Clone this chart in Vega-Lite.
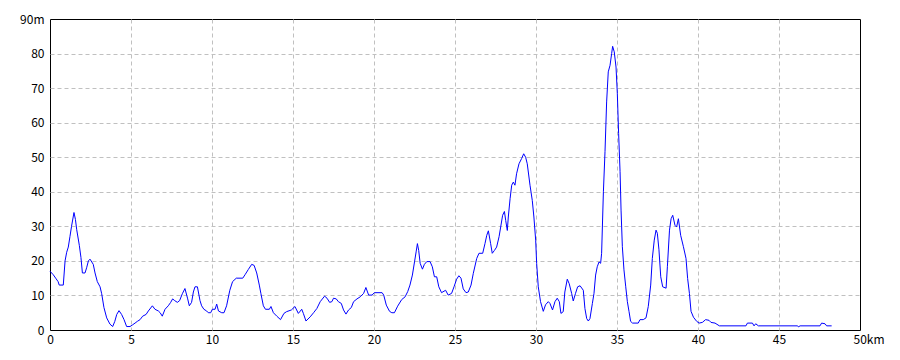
{
  "$schema": "https://vega.github.io/schema/vega-lite/v6.json",
  "width": 810,
  "height": 311,
  "autosize": {"type": "none"},
  "padding": {"left": 50, "top": 19, "right": 40, "bottom": 30},
  "background": "white",
  "config": {
    "view": {"stroke": "black", "strokeWidth": 1},
    "axis": {
      "labelFont": "Noto Sans CJK JP",
      "labelFontSize": 12,
      "labelColor": "black",
      "domain": false,
      "ticks": false,
      "gridColor": "#c0c0c0",
      "gridDash": [4, 3],
      "gridWidth": 1,
      "title": null
    }
  },
  "data": {
    "values": [
      {"km": 0, "m": 17}, {"km": 0.2, "m": 16}, {"km": 0.35, "m": 15}, {"km": 0.5, "m": 14}, {"km": 0.57, "m": 13}, {"km": 0.82, "m": 13}, {"km": 0.93, "m": 20}, {"km": 1.03, "m": 22.5}, {"km": 1.13, "m": 24}, {"km": 1.23, "m": 27}, {"km": 1.33, "m": 30}, {"km": 1.48, "m": 34}, {"km": 1.57, "m": 32}, {"km": 1.65, "m": 29}, {"km": 1.81, "m": 24.5}, {"km": 1.91, "m": 21}, {"km": 2.0, "m": 16.5}, {"km": 2.16, "m": 16.5}, {"km": 2.26, "m": 18}, {"km": 2.37, "m": 20}, {"km": 2.47, "m": 20.5}, {"km": 2.67, "m": 19}, {"km": 2.78, "m": 16.5}, {"km": 2.92, "m": 14}, {"km": 3.09, "m": 12.5}, {"km": 3.19, "m": 10.5}, {"km": 3.33, "m": 6.5}, {"km": 3.5, "m": 3.5}, {"km": 3.7, "m": 1.7}, {"km": 3.87, "m": 1}, {"km": 4.0, "m": 2.5}, {"km": 4.12, "m": 4.5}, {"km": 4.26, "m": 5.6}, {"km": 4.42, "m": 4.5}, {"km": 4.57, "m": 3}, {"km": 4.73, "m": 1}, {"km": 4.94, "m": 1}, {"km": 5.1, "m": 1.5}, {"km": 5.25, "m": 2}, {"km": 5.39, "m": 2.5}, {"km": 5.56, "m": 3}, {"km": 5.72, "m": 4}, {"km": 5.93, "m": 4.5}, {"km": 6.07, "m": 5.5}, {"km": 6.32, "m": 7}, {"km": 6.48, "m": 6}, {"km": 6.69, "m": 5.5}, {"km": 6.8, "m": 5}, {"km": 6.93, "m": 4}, {"km": 7.1, "m": 6}, {"km": 7.3, "m": 7}, {"km": 7.45, "m": 8}, {"km": 7.57, "m": 9}, {"km": 7.7, "m": 8.5}, {"km": 7.86, "m": 8}, {"km": 8.0, "m": 8.5}, {"km": 8.17, "m": 10.5}, {"km": 8.33, "m": 12}, {"km": 8.5, "m": 9}, {"km": 8.6, "m": 7}, {"km": 8.74, "m": 8}, {"km": 8.85, "m": 11}, {"km": 8.95, "m": 12.5}, {"km": 9.1, "m": 12.5}, {"km": 9.26, "m": 8.5}, {"km": 9.36, "m": 7}, {"km": 9.5, "m": 6}, {"km": 9.67, "m": 5.5}, {"km": 9.77, "m": 5}, {"km": 9.92, "m": 5}, {"km": 10.02, "m": 6}, {"km": 10.19, "m": 6}, {"km": 10.29, "m": 7.5}, {"km": 10.4, "m": 5.5}, {"km": 10.6, "m": 5}, {"km": 10.74, "m": 5}, {"km": 10.9, "m": 7}, {"km": 11.1, "m": 11.5}, {"km": 11.27, "m": 14}, {"km": 11.5, "m": 15}, {"km": 11.9, "m": 15}, {"km": 12.04, "m": 16}, {"km": 12.24, "m": 17.5}, {"km": 12.45, "m": 19}, {"km": 12.6, "m": 18.7}, {"km": 12.76, "m": 16.5}, {"km": 12.92, "m": 13}, {"km": 13.02, "m": 10.5}, {"km": 13.17, "m": 7}, {"km": 13.3, "m": 6}, {"km": 13.54, "m": 6}, {"km": 13.64, "m": 6.8}, {"km": 13.79, "m": 5}, {"km": 14.0, "m": 4}, {"km": 14.23, "m": 3}, {"km": 14.44, "m": 4.8}, {"km": 14.6, "m": 5.3}, {"km": 14.9, "m": 5.8}, {"km": 15.12, "m": 6.8}, {"km": 15.33, "m": 4.8}, {"km": 15.54, "m": 6}, {"km": 15.64, "m": 4.8}, {"km": 15.8, "m": 2.6}, {"km": 16.06, "m": 3.8}, {"km": 16.27, "m": 5}, {"km": 16.47, "m": 6.2}, {"km": 16.68, "m": 8.2}, {"km": 16.95, "m": 9.8}, {"km": 17.1, "m": 9.2}, {"km": 17.26, "m": 8}, {"km": 17.4, "m": 8.2}, {"km": 17.5, "m": 9.2}, {"km": 17.67, "m": 9}, {"km": 17.8, "m": 8.2}, {"km": 17.98, "m": 7.7}, {"km": 18.12, "m": 5.8}, {"km": 18.27, "m": 4.6}, {"km": 18.43, "m": 5.8}, {"km": 18.6, "m": 6.5}, {"km": 18.74, "m": 8.2}, {"km": 18.95, "m": 9}, {"km": 19.15, "m": 9.6}, {"km": 19.36, "m": 10.6}, {"km": 19.5, "m": 12.3}, {"km": 19.67, "m": 10.1}, {"km": 19.88, "m": 10.1}, {"km": 20.02, "m": 10.8}, {"km": 20.5, "m": 10.8}, {"km": 20.6, "m": 10.1}, {"km": 20.76, "m": 7.2}, {"km": 20.96, "m": 5.4}, {"km": 21.1, "m": 5}, {"km": 21.26, "m": 5}, {"km": 21.46, "m": 6.9}, {"km": 21.71, "m": 8.8}, {"km": 21.92, "m": 9.6}, {"km": 22.08, "m": 11.1}, {"km": 22.22, "m": 13}, {"km": 22.37, "m": 15.9}, {"km": 22.5, "m": 19.7}, {"km": 22.6, "m": 22.6}, {"km": 22.68, "m": 25}, {"km": 22.76, "m": 23}, {"km": 22.85, "m": 19.3}, {"km": 22.99, "m": 17.6}, {"km": 23.11, "m": 19}, {"km": 23.26, "m": 19.8}, {"km": 23.46, "m": 19.8}, {"km": 23.6, "m": 18.3}, {"km": 23.73, "m": 15.4}, {"km": 23.87, "m": 15.4}, {"km": 24.0, "m": 12.5}, {"km": 24.17, "m": 10.8}, {"km": 24.42, "m": 11.5}, {"km": 24.58, "m": 10.1}, {"km": 24.79, "m": 10.6}, {"km": 24.94, "m": 12.5}, {"km": 25.1, "m": 14.7}, {"km": 25.24, "m": 15.7}, {"km": 25.37, "m": 15}, {"km": 25.51, "m": 11.9}, {"km": 25.68, "m": 10.8}, {"km": 25.82, "m": 11}, {"km": 25.99, "m": 13}, {"km": 26.13, "m": 16.4}, {"km": 26.34, "m": 20.7}, {"km": 26.48, "m": 22.2}, {"km": 26.71, "m": 22.2}, {"km": 26.85, "m": 25}, {"km": 26.96, "m": 27.4}, {"km": 27.06, "m": 28.7}, {"km": 27.2, "m": 25}, {"km": 27.3, "m": 22.2}, {"km": 27.43, "m": 23}, {"km": 27.57, "m": 24}, {"km": 27.72, "m": 27}, {"km": 27.82, "m": 29.8}, {"km": 27.94, "m": 33.2}, {"km": 28.05, "m": 34.3}, {"km": 28.13, "m": 31.7}, {"km": 28.23, "m": 28.8}, {"km": 28.29, "m": 32.7}, {"km": 28.4, "m": 38}, {"km": 28.5, "m": 41.9}, {"km": 28.6, "m": 42.8}, {"km": 28.7, "m": 41.9}, {"km": 28.8, "m": 45.2}, {"km": 28.95, "m": 48.1}, {"km": 29.11, "m": 49.6}, {"km": 29.24, "m": 51}, {"km": 29.36, "m": 50}, {"km": 29.46, "m": 48.1}, {"km": 29.63, "m": 41.9}, {"km": 29.77, "m": 37.5}, {"km": 29.87, "m": 32.7}, {"km": 29.98, "m": 26}, {"km": 30.04, "m": 19.3}, {"km": 30.14, "m": 12.5}, {"km": 30.28, "m": 8.2}, {"km": 30.45, "m": 5.4}, {"km": 30.59, "m": 7.3}, {"km": 30.76, "m": 8.2}, {"km": 30.86, "m": 7.7}, {"km": 31.02, "m": 5.8}, {"km": 31.17, "m": 8.2}, {"km": 31.31, "m": 9.2}, {"km": 31.44, "m": 8.2}, {"km": 31.54, "m": 4.8}, {"km": 31.68, "m": 5.3}, {"km": 31.78, "m": 11}, {"km": 31.93, "m": 14.7}, {"km": 32.05, "m": 13.4}, {"km": 32.2, "m": 10.6}, {"km": 32.3, "m": 8.4}, {"km": 32.44, "m": 10.6}, {"km": 32.57, "m": 12.5}, {"km": 32.72, "m": 12.8}, {"km": 32.92, "m": 11.5}, {"km": 33.02, "m": 6.2}, {"km": 33.13, "m": 3.3}, {"km": 33.23, "m": 2.6}, {"km": 33.33, "m": 3.3}, {"km": 33.48, "m": 7.7}, {"km": 33.58, "m": 10.6}, {"km": 33.68, "m": 15.9}, {"km": 33.78, "m": 18.3}, {"km": 33.89, "m": 19.7}, {"km": 33.99, "m": 19.3}, {"km": 34.05, "m": 22.2}, {"km": 34.16, "m": 40}, {"km": 34.26, "m": 51.6}, {"km": 34.36, "m": 66}, {"km": 34.46, "m": 74.7}, {"km": 34.57, "m": 76.6}, {"km": 34.67, "m": 80}, {"km": 34.73, "m": 82.1}, {"km": 34.83, "m": 80.5}, {"km": 34.94, "m": 76.1}, {"km": 35.02, "m": 68.5}, {"km": 35.1, "m": 56.9}, {"km": 35.19, "m": 45.8}, {"km": 35.25, "m": 34.7}, {"km": 35.33, "m": 24.1}, {"km": 35.43, "m": 17.4}, {"km": 35.54, "m": 12.5}, {"km": 35.64, "m": 8.2}, {"km": 35.74, "m": 5.4}, {"km": 35.84, "m": 2.5}, {"km": 35.96, "m": 2}, {"km": 36.31, "m": 2}, {"km": 36.42, "m": 3}, {"km": 36.62, "m": 3}, {"km": 36.79, "m": 3.5}, {"km": 36.93, "m": 6.8}, {"km": 37.08, "m": 13}, {"km": 37.18, "m": 20.7}, {"km": 37.3, "m": 26}, {"km": 37.41, "m": 28.9}, {"km": 37.49, "m": 28}, {"km": 37.59, "m": 23.2}, {"km": 37.7, "m": 15.4}, {"km": 37.82, "m": 12.5}, {"km": 38.03, "m": 12.1}, {"km": 38.11, "m": 18.3}, {"km": 38.24, "m": 28.9}, {"km": 38.34, "m": 32.2}, {"km": 38.44, "m": 33.2}, {"km": 38.58, "m": 30.3}, {"km": 38.68, "m": 29.8}, {"km": 38.79, "m": 32.2}, {"km": 38.93, "m": 27.4}, {"km": 39.1, "m": 24.1}, {"km": 39.26, "m": 20.7}, {"km": 39.36, "m": 14.9}, {"km": 39.47, "m": 10.6}, {"km": 39.57, "m": 5.4}, {"km": 39.72, "m": 3.7}, {"km": 39.92, "m": 2.5}, {"km": 40.07, "m": 2}, {"km": 40.27, "m": 2.2}, {"km": 40.47, "m": 3}, {"km": 40.68, "m": 2.8}, {"km": 40.8, "m": 2.2}, {"km": 41.05, "m": 2}, {"km": 41.32, "m": 1.2}, {"km": 42.96, "m": 1.2}, {"km": 43.05, "m": 2}, {"km": 43.36, "m": 2}, {"km": 43.46, "m": 1.2}, {"km": 43.56, "m": 1.8}, {"km": 43.73, "m": 1.2}, {"km": 46.15, "m": 1.2}, {"km": 46.2, "m": 0.9}, {"km": 46.3, "m": 1.2}, {"km": 47.53, "m": 1.2}, {"km": 47.63, "m": 2}, {"km": 47.84, "m": 1.8}, {"km": 47.94, "m": 1.2}, {"km": 48.25, "m": 1.2}
    ]
  },
  "mark": {"type": "line", "color": "#0000ff", "strokeWidth": 1, "interpolate": "linear"},
  "encoding": {
    "x": {
      "field": "km",
      "type": "quantitative",
      "scale": {"domain": [0, 50], "nice": false, "zero": false},
      "axis": {
        "values": [0, 5, 10, 15, 20, 25, 30, 35, 40, 45, 50],
        "labelExpr": "datum.value == 50 ? '50km' : datum.label",
        "labelAlign": {"condition": {"test": "datum.value == 50", "value": "left"}, "value": "center"},
        "labelOffset": {"condition": {"test": "datum.value == 50", "value": -7}, "value": 0},
        "gridOpacity": {"condition": {"test": "datum.value == 0 || datum.value == 50", "value": 0}, "value": 1},
        "labelPadding": 4,
        "labelFlush": false,
        "labelOverlap": false
      }
    },
    "y": {
      "field": "m",
      "type": "quantitative",
      "scale": {"domain": [0, 90], "nice": false},
      "axis": {
        "values": [0, 10, 20, 30, 40, 50, 60, 70, 80, 90],
        "labelExpr": "datum.value == 90 ? '90m' : datum.label",
        "gridOpacity": {"condition": {"test": "datum.value == 0 || datum.value == 90", "value": 0}, "value": 1},
        "labelPadding": 6,
        "labelFlush": false,
        "labelOverlap": false
      }
    }
  }
}
